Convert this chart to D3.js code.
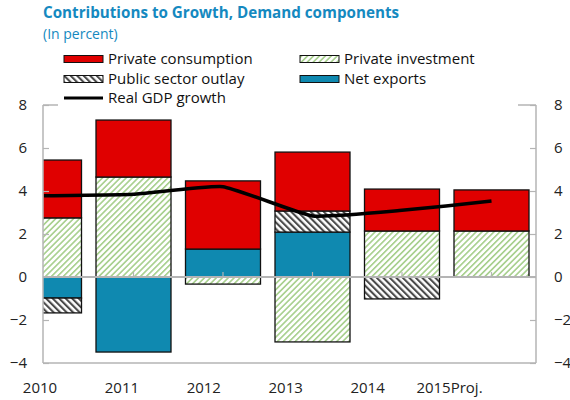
<!DOCTYPE html>
<html><head><meta charset="utf-8">
<script src="https://cdn.jsdelivr.net/npm/d3@7"></script>
<style>body{margin:0;background:#fff} svg{display:block}</style>
</head><body><svg id="c" width="570" height="400"></svg>
<script>
const years = ["2010","2011","2012","2013","2014","2015Proj."];
const privateInvestment = [2.75, 4.65, -0.33, -3.02, 2.14, 2.14];
const netExports = [-0.98, -3.49, 1.30, 2.09, 0, 0];
const publicSector = [-0.69, 0, 0, 0.98, -1.02, 0];
const privateConsumption = [2.69, 2.65, 3.17, 2.74, 1.95, 1.91];
const gdpGrowth = [3.78, 3.85, 4.20, 2.84, 3.10, 3.53];
const yTicks = [-4, -2, 0, 2, 4, 6, 8];
const seriesNames = ["Private investment","Net exports","Public sector outlay","Private consumption"];

const svg = d3.select("#c");
const L = 43, R = 536, T = 105, B = 363;
const font = "'Open Sans', 'Noto Sans', sans-serif";

const x = d3.scalePoint().domain(years).range([44, 491.5]);
const xLab = d3.scalePoint().domain(years).range([40, 449.5]);
const y = d3.scaleLinear().domain([-4, 8]).range([B, T]);
const barW = 75;

const defs = svg.append("defs");
const pInv = defs.append("pattern").attr("id","pInv").attr("patternUnits","userSpaceOnUse")
  .attr("width",4.2).attr("height",4.2).attr("patternTransform","rotate(45)");
pInv.append("rect").attr("width",4.2).attr("height",4.2).attr("fill","#fff");
pInv.append("rect").attr("width",1.6).attr("height",4.2).attr("fill","#a6cf8c");
const pPub = defs.append("pattern").attr("id","pPub").attr("patternUnits","userSpaceOnUse")
  .attr("width",4.6).attr("height",4.6).attr("patternTransform","rotate(-45)");
pPub.append("rect").attr("width",4.6).attr("height",4.6).attr("fill","#fff");
pPub.append("rect").attr("width",2.1).attr("height",4.6).attr("fill","#4a4a4a");
defs.append("clipPath").attr("id","plot").append("rect")
  .attr("x",L).attr("y",T-10).attr("width",R-L).attr("height",B-T+10);

const fills = {"Private investment":"url(#pInv)","Net exports":"#0f89b0","Public sector outlay":"url(#pPub)","Private consumption":"#e00000"};

const table = years.map((yr,i)=>({year:yr,
  "Private investment":privateInvestment[i],
  "Net exports":netExports[i],
  "Public sector outlay":publicSector[i],
  "Private consumption":privateConsumption[i]}));
const stack = d3.stack().keys(seriesNames).offset(d3.stackOffsetDiverging)(table);

const axisCol = "#b4b4b4";
svg.append("line").attr("x1",L).attr("x2",R).attr("y1",T).attr("y2",T).attr("stroke",axisCol).attr("stroke-width",1.5);
svg.append("rect").attr("x",58).attr("y",46).attr("width",460).attr("height",60).attr("fill","#fff");

const plot = svg.append("g").attr("clip-path","url(#plot)");
stack.forEach(s=>{
  plot.append("g").selectAll("rect").data(s.filter(d=>d[1]!==d[0])).join("rect")
    .attr("x",d=>x(d.data.year)-barW/2)
    .attr("width",barW)
    .attr("y",d=>y(Math.max(d[0],d[1])))
    .attr("height",d=>Math.abs(y(d[0])-y(d[1])))
    .attr("fill",fills[s.key])
    .attr("stroke","#111").attr("stroke-width",1.3);
});

svg.append("line").attr("x1",L).attr("x2",L).attr("y1",T).attr("y2",B).attr("stroke",axisCol).attr("stroke-width",1.5);
svg.append("line").attr("x1",R).attr("x2",R).attr("y1",T).attr("y2",B).attr("stroke",axisCol).attr("stroke-width",1.5);
svg.append("line").attr("x1",L).attr("x2",R).attr("y1",B).attr("y2",B).attr("stroke",axisCol).attr("stroke-width",1.5);
svg.append("line").attr("x1",L).attr("x2",R).attr("y1",y(0)).attr("y2",y(0)).attr("stroke",axisCol).attr("stroke-width",2);

const lAxis = d3.axisLeft(y).tickValues(yTicks).tickSize(-6).tickPadding(16).tickFormat(d3.format("d"));
const rAxis = d3.axisRight(y).tickValues(yTicks).tickSize(-6).tickPadding(18).tickFormat(d3.format("d"));
[[lAxis,L],[rAxis,R]].forEach(([ax,pos])=>{
  const g = svg.append("g").attr("transform",`translate(${pos},0)`).call(ax);
  g.select(".domain").remove();
  g.selectAll("line").attr("stroke",axisCol).attr("stroke-width",1.2);
  g.selectAll("text").attr("font-family",font).attr("font-size",15).attr("fill","#222");
});
svg.append("g").selectAll("line").data(years.slice(1)).join("line")
  .attr("x1",d=>x(d)).attr("x2",d=>x(d)).attr("y1",y(0)).attr("y2",y(0)-5)
  .attr("stroke",axisCol).attr("stroke-width",1.2);

svg.append("g").selectAll("text").data(years).join("text")
  .attr("x",d=>xLab(d)).attr("y",393).attr("text-anchor","middle")
  .attr("font-family",font).attr("font-size",15).attr("fill","#222").text(d=>d);

const line = d3.line().x((d,i)=>x(years[i])).y(d=>y(d)).curve(d3.curveCardinal.tension(0.6));
plot.append("path").datum(gdpGrowth).attr("d",line).attr("fill","none")
  .attr("stroke","#000").attr("stroke-width",3.5);

svg.append("text").attr("x",43).attr("y",18).attr("font-family",font).attr("font-weight","bold")
  .attr("font-size",15.2).attr("fill","#1589c0").text("Contributions to Growth, Demand components");
svg.append("text").attr("x",43).attr("y",39).attr("font-family",font)
  .attr("font-size",14).attr("fill","#1589c0").text("(In percent)");

const leg = svg.append("g");
const legItems = [
  {name:"Private consumption", col:0, row:0},
  {name:"Private investment", col:1, row:0},
  {name:"Public sector outlay", col:0, row:1},
  {name:"Net exports", col:1, row:1},
  {name:"Real GDP growth", col:0, row:2, line:true}
];
const colX = [64, 300], rowY = [59, 79, 98];
legItems.forEach(it=>{
  const gx = colX[it.col], gy = rowY[it.row];
  if (it.line) {
    leg.append("line").attr("x1",gx).attr("x2",gx+39).attr("y1",gy).attr("y2",gy).attr("stroke","#000").attr("stroke-width",3);
  } else {
    leg.append("rect").attr("x",gx).attr("y",gy-3.5).attr("width",39).attr("height",7)
      .attr("fill",fills[it.name]).attr("stroke","#111").attr("stroke-width",1);
  }
  leg.append("text").attr("x",gx+44).attr("y",gy+5).attr("font-family",font).attr("font-size",15)
    .attr("fill","#111").text(it.name);
});
</script></body></html>
